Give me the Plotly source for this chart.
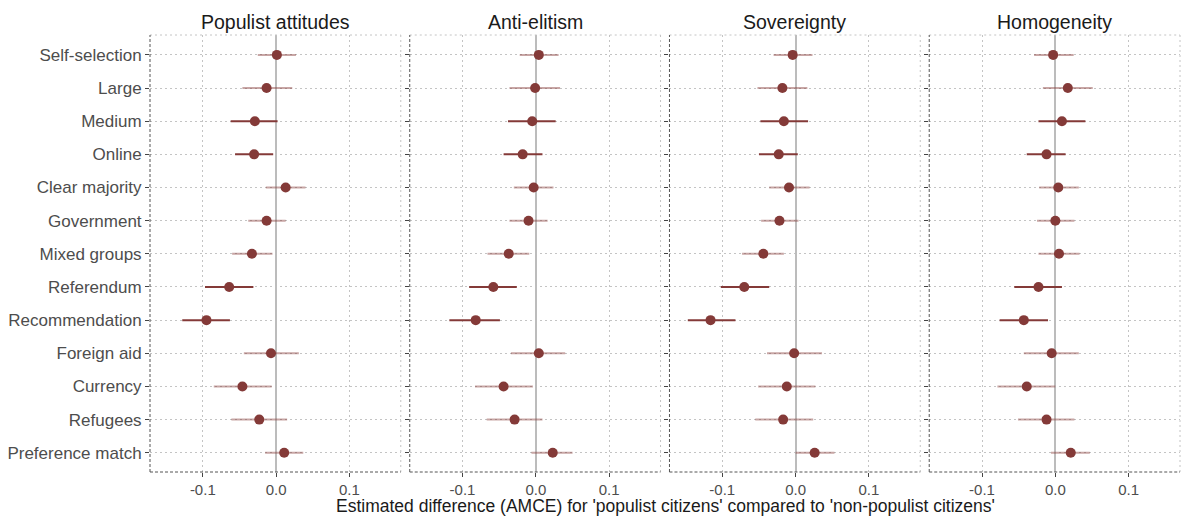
import plotly.graph_objects as go
from plotly.subplots import make_subplots

categories = ["Self-selection", "Large", "Medium", "Online", "Clear majority", "Government",
              "Mixed groups", "Referendum", "Recommendation", "Foreign aid", "Currency",
              "Refugees", "Preference match"]
dark_attrs = ["Medium", "Online", "Referendum", "Recommendation"]
panels = ["Populist attitudes", "Anti-elitism", "Sovereignty", "Homogeneity"]

populist_est = [0.001, -0.013, -0.029, -0.030, 0.013, -0.013, -0.033, -0.064, -0.095, -0.007, -0.046, -0.023, 0.011]
populist_lo = [-0.025, -0.046, -0.062, -0.056, -0.014, -0.038, -0.060, -0.097, -0.128, -0.044, -0.085, -0.061, -0.015]
populist_hi = [0.027, 0.022, 0.002, -0.004, 0.040, 0.013, -0.005, -0.031, -0.063, 0.031, -0.006, 0.015, 0.037]

anti_est = [0.004, -0.001, -0.005, -0.018, -0.003, -0.010, -0.037, -0.058, -0.082, 0.004, -0.044, -0.029, 0.023]
anti_lo = [-0.022, -0.036, -0.038, -0.044, -0.030, -0.036, -0.066, -0.091, -0.118, -0.034, -0.083, -0.067, -0.006]
anti_hi = [0.031, 0.033, 0.027, 0.009, 0.024, 0.016, -0.009, -0.026, -0.049, 0.040, -0.004, 0.009, 0.050]

sov_est = [-0.004, -0.018, -0.016, -0.023, -0.009, -0.022, -0.044, -0.070, -0.116, -0.002, -0.012, -0.017, 0.026]
sov_lo = [-0.030, -0.052, -0.048, -0.050, -0.036, -0.047, -0.073, -0.102, -0.147, -0.039, -0.051, -0.055, 0.000]
sov_hi = [0.023, 0.016, 0.017, 0.003, 0.019, 0.004, -0.016, -0.036, -0.082, 0.036, 0.027, 0.024, 0.053]

hom_est = [-0.003, 0.017, 0.009, -0.012, 0.004, 0.000, 0.005, -0.023, -0.043, -0.005, -0.039, -0.012, 0.021]
hom_lo = [-0.029, -0.017, -0.023, -0.039, -0.022, -0.025, -0.023, -0.056, -0.076, -0.043, -0.079, -0.051, -0.006]
hom_hi = [0.025, 0.051, 0.041, 0.014, 0.032, 0.026, 0.033, 0.009, -0.010, 0.032, 0.000, 0.026, 0.047]

data = [(populist_est, populist_lo, populist_hi), (anti_est, anti_lo, anti_hi),
        (sov_est, sov_lo, sov_hi), (hom_est, hom_lo, hom_hi)]

x_ticks = [-0.1, 0.0, 0.1]
x_ticktext = ["-0.1", "0.0", "0.1"]

DARK = "#843a38"
LIGHT = "rgba(132,58,56,0.45)"
GRID = "#c4c4c4"
AXIS = "#444444"
FONT = "Liberation Sans, Arial, sans-serif"

fig = make_subplots(rows=1, cols=4, shared_yaxes=True, horizontal_spacing=0.0087,
                    subplot_titles=panels)

for i, (est, lo, hi) in enumerate(data):
    col = i + 1
    for is_dark in (False, True):
        xs, ys = [], []
        for c, l, h in zip(categories, lo, hi):
            if (c in dark_attrs) == is_dark:
                xs += [l, h, None]
                ys += [c, c, None]
        fig.add_trace(go.Scatter(x=xs, y=ys, mode="lines",
                                 line=dict(color=DARK if is_dark else LIGHT, width=2),
                                 hoverinfo="skip", showlegend=False), row=1, col=col)
    fig.add_trace(go.Scatter(x=est, y=categories, mode="markers",
                             marker=dict(color=DARK, size=10, line=dict(width=0)),
                             showlegend=False), row=1, col=col)

for i in range(4):
    col = i + 1
    fig.update_xaxes(range=[-0.172, 0.170], tickvals=x_ticks, ticktext=x_ticktext,
                     showgrid=True, gridcolor=GRID, griddash="2px,3px", gridwidth=1,
                     zeroline=True, zerolinecolor="#bcbcbc", zerolinewidth=2,
                     ticks="outside", ticklen=4, tickcolor=AXIS,
                     tickfont=dict(size=15, color="#4d4d4d", family=FONT),
                     showline=False, automargin=False, row=1, col=col)
    fig.update_yaxes(type="category", categoryorder="array", categoryarray=categories,
                     range=[12.58, -0.6], showgrid=True, gridcolor=GRID, griddash="2px,3px",
                     gridwidth=1, ticks="outside", ticklen=4, tickcolor=AXIS,
                     tickfont=dict(size=17, color="#4d4d4d", family=FONT),
                     showline=False, zeroline=False, automargin=False, row=1, col=col)
    xr = "x" if i == 0 else f"x{col}"
    yr = "y" if i == 0 else f"y{col}"
    fig.add_shape(type="line", xref=f"{xr} domain", yref=f"{yr} domain",
                  x0=0, x1=1, y0=1, y1=1, line=dict(color=GRID, width=1, dash="2px,3px"))
    fig.add_shape(type="line", xref=f"{xr} domain", yref=f"{yr} domain",
                  x0=1, x1=1, y0=0, y1=1, line=dict(color=GRID, width=1, dash="2px,3px"))
    fig.add_shape(type="line", xref=f"{xr} domain", yref=f"{yr} domain",
                  x0=0, x1=0, y0=0, y1=1, line=dict(color="#555555", width=1, dash="3px,2px"))
    fig.add_shape(type="line", xref=f"{xr} domain", yref=f"{yr} domain",
                  x0=0, x1=1, y0=0, y1=0, line=dict(color="#555555", width=1, dash="3px,2px"))

for ann in fig.layout.annotations:
    ann.font = dict(size=19.5, color="#1a1a1a", family=FONT)

fig.add_annotation(text="Estimated difference (AMCE) for 'populist citizens' compared to 'non-populist citizens'",
                   xref="paper", yref="paper", x=0.5, y=0, yshift=-22, yanchor="top",
                   showarrow=False, font=dict(size=17.5, color="#1a1a1a", family=FONT))

fig.update_layout(width=1181, height=516,
                  margin=dict(l=150, r=1, t=35, b=44, autoexpand=False),
                  plot_bgcolor="white", paper_bgcolor="white",
                  font=dict(family=FONT))

fig.write_html("out.html", config={"displayModeBar": False},
               post_script="document.body.style.margin='0';document.body.style.overflow='hidden';")
